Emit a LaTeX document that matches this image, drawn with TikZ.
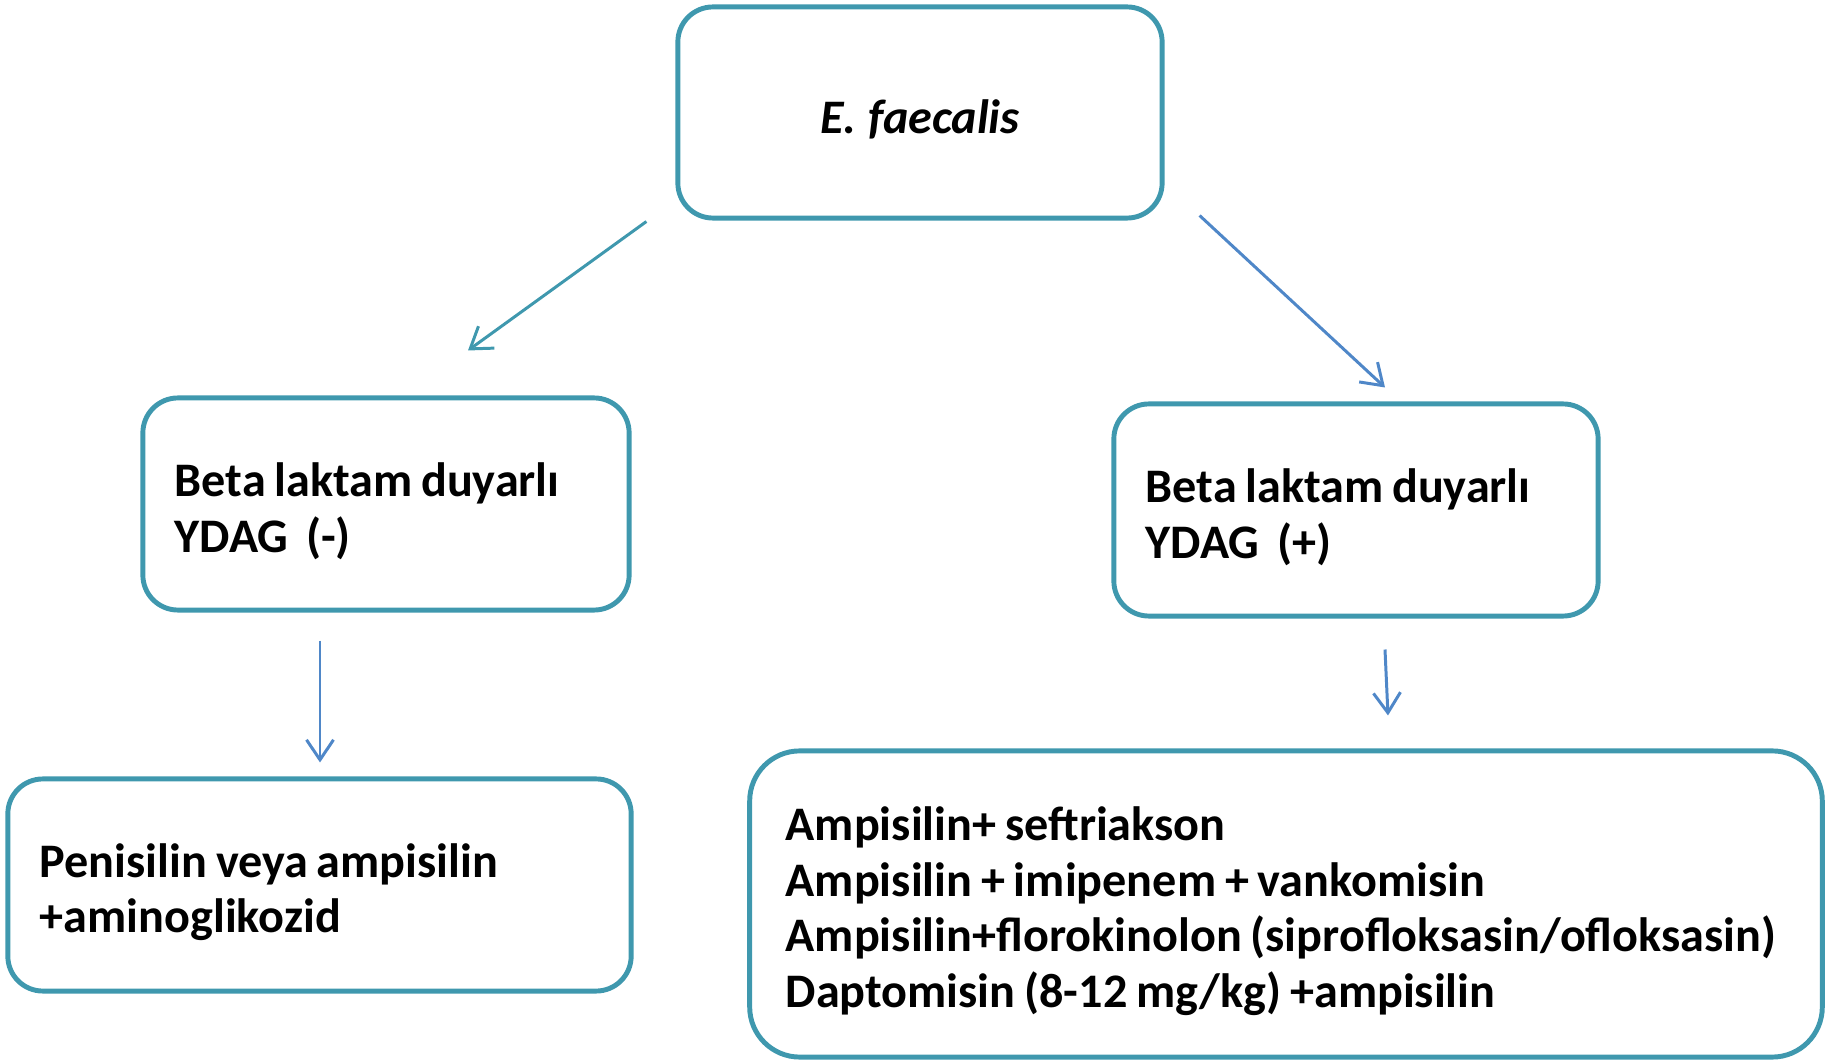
\documentclass[tikz,border=0pt]{standalone}
\usepackage{fontspec}
\setmainfont{Carlito}
\usetikzlibrary{arrows.meta,positioning,calc}
\definecolor{boxteal}{HTML}{3F98AE}
\definecolor{arrblue}{HTML}{4F87C8}

\begin{document}
\begin{tikzpicture}[x=0.01cm,y=-0.01cm,
  box/.style={draw=boxteal,line width=1.4pt,rounded corners=0.35cm,inner xsep=0.32cm,inner ysep=0pt,
    align=left,minimum height=2.12cm,
    font=\bfseries\fontsize{13.7}{15.9}\selectfont,
    execute at begin node={\spaceskip=2.5pt plus 0.7pt\relax\rule{0pt}{13.7pt}}},
  arr/.style={line width=0.85pt,-{Straight Barb[length=0.2cm,width=0.27cm]}}]
\useasboundingbox (0,0) rectangle (1826,1061);
% boxes
\node[box,align=center,text width=4.20cm,minimum height=2.11cm] (root) at (920,112.5) {\textit{E. faecalis}};
\node[box,text width=4.22cm] (neg) at (386,504) {Beta laktam duyarlı\\YDAG~~(-)};
\node[box,text width=4.20cm] (pos) at (1356,510) {Beta laktam duyarlı\\YDAG~~(+)};
\node[box,text width=5.59cm] (negtx) at (319.5,885) {Penisilin veya ampisilin\\+aminoglikozid};
\node[box,text width=10.00cm,minimum height=3.06cm,rounded corners=0.5cm,inner xsep=0.36cm] (postx) at (1286,904)
  {Ampisilin+ seftriakson\\Ampisilin + imipenem + vankomisin\\Ampisilin+florokinolon (siprofloksasin/ofloksasin)\\Daptomisin (8-12 mg/kg) +ampisilin};
% arrow ends
\coordinate (r1) at ($(root.south west)+(-29,1)$);
\coordinate (n1) at ($(neg.north)+(82,-45)$);
\coordinate (r2) at ($(root.south east)+(35,-5)$);
\coordinate (p1) at ($(pos.north)+(29,-14)$);
\coordinate (n2) at ($(neg.south)+(-66,28)$);
\coordinate (t1) at ($(negtx.north)+(0.5,-14)$);
\coordinate (p2) at ($(pos.south)+(29,31)$);
\coordinate (t2) at ($(postx.north)+(102,-33)$);
% arrows
\draw[arr,boxteal] (r1) -- (n1);
\draw[arr,arrblue] (r2) -- (p1);
\draw[arr,arrblue] (n2) -- (t1);
\draw[arr,arrblue] (p2) -- (t2);
\end{tikzpicture}
\end{document}
